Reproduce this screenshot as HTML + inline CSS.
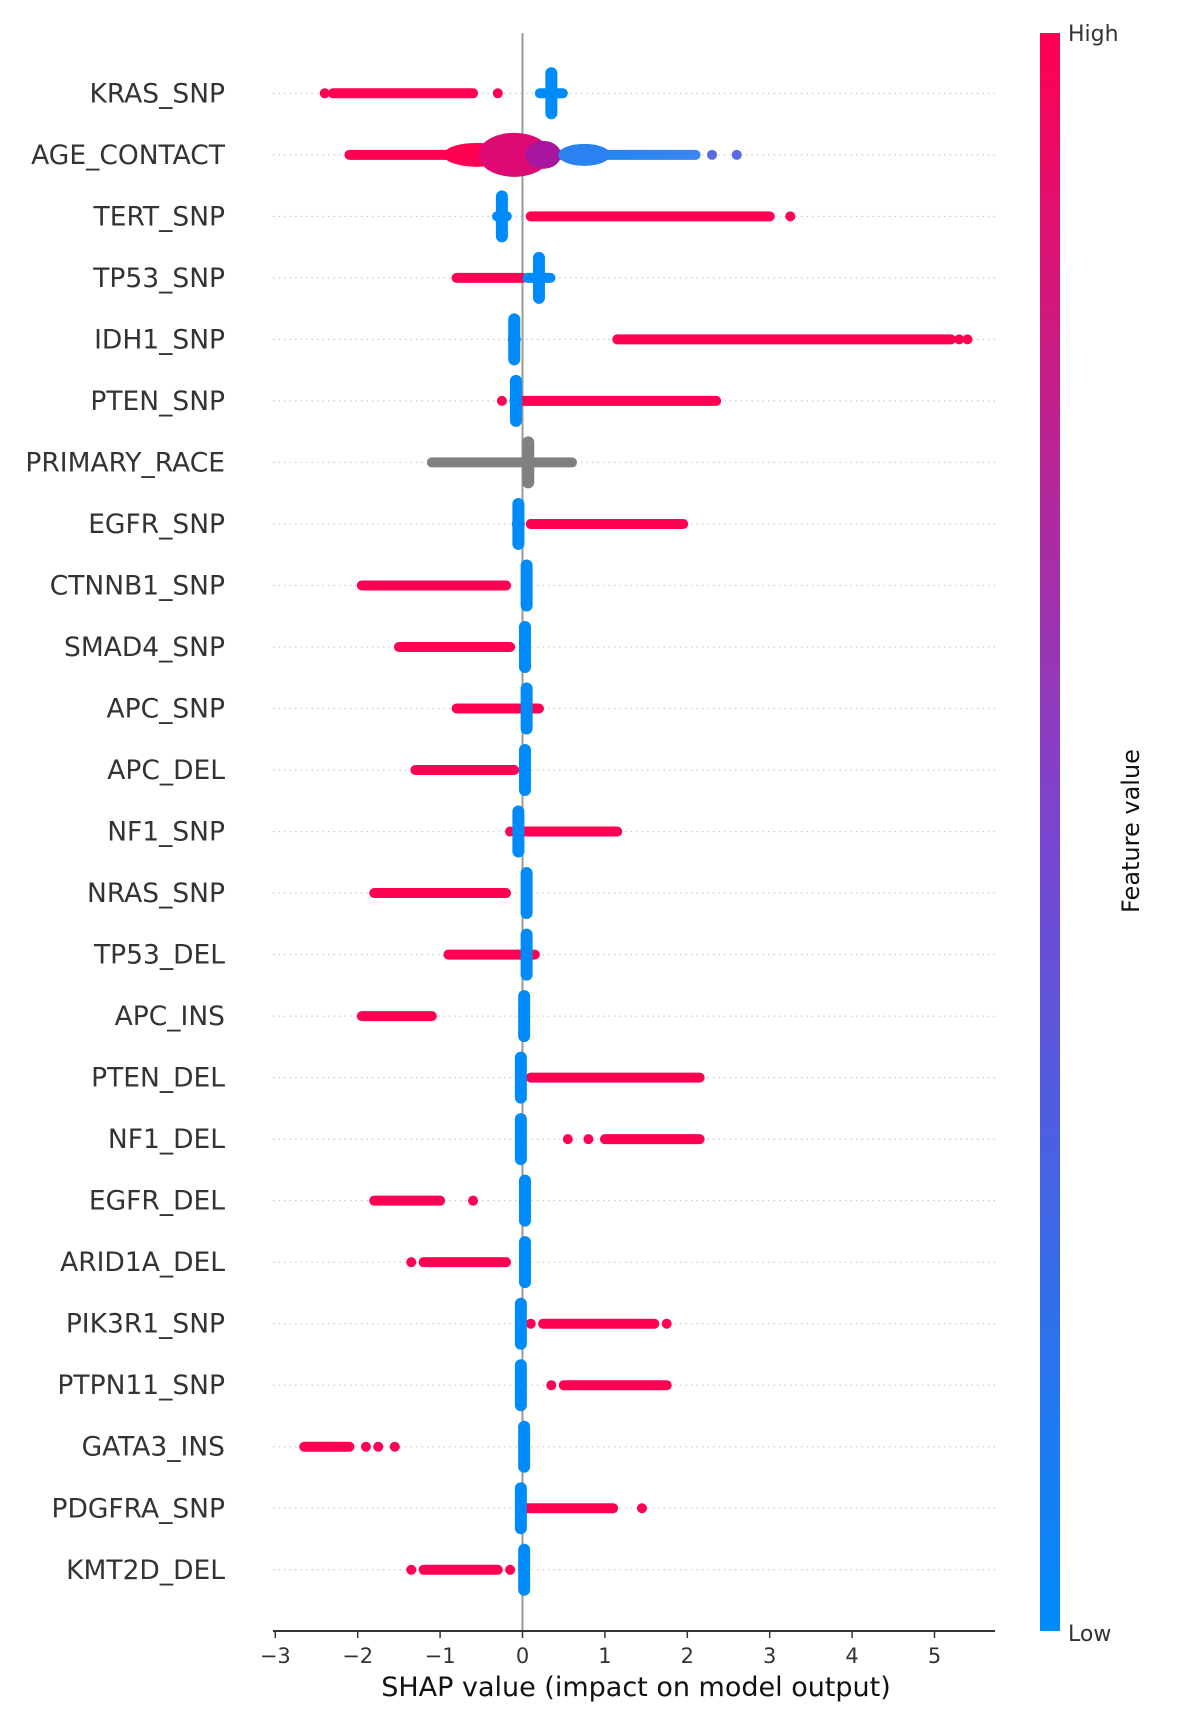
<!DOCTYPE html>
<html><head><meta charset="utf-8"><style>
html,body{margin:0;padding:0;background:#fff;}
svg{display:block;font-family:"DejaVu Sans","Liberation Sans",sans-serif;}
</style></head><body>
<svg id="chart" width="1200" height="1725" viewBox="0 0 1200 1725">
<defs><linearGradient id="cb" x1="0" y1="1" x2="0" y2="0">
<stop offset="0" stop-color="#008bfb"/><stop offset="0.5" stop-color="#7a45d0"/><stop offset="1" stop-color="#ff0052"/></linearGradient>
<linearGradient id="age" x1="0" y1="0" x2="1" y2="0">
<stop offset="0" stop-color="#ff0052"/><stop offset="0.4" stop-color="#ff0052"/><stop offset="0.55" stop-color="#b0109a"/><stop offset="0.65" stop-color="#1a86f0"/><stop offset="1" stop-color="#3a86f0"/></linearGradient></defs>
<g id="grid"></g><g id="marks"></g><g id="axis"></g>
<rect x="1040" y="33" width="20" height="1598" fill="url(#cb)"/>
<text x="1068" y="41" font-size="22" fill="#333">High</text>
<text x="1068" y="1641" font-size="22" fill="#333">Low</text>
<text transform="translate(1139,831) rotate(-90)" text-anchor="middle" font-size="24" fill="#111">Feature value</text>
<text x="636" y="1696" text-anchor="middle" font-size="27" fill="#111">SHAP value (impact on model output)</text>
</svg>
<script>
const features=["KRAS_SNP","AGE_CONTACT","TERT_SNP","TP53_SNP","IDH1_SNP","PTEN_SNP","PRIMARY_RACE","EGFR_SNP","CTNNB1_SNP","SMAD4_SNP","APC_SNP","APC_DEL","NF1_SNP","NRAS_SNP","TP53_DEL","APC_INS","PTEN_DEL","NF1_DEL","EGFR_DEL","ARID1A_DEL","PIK3R1_SNP","PTPN11_SNP","GATA3_INS","PDGFRA_SNP","KMT2D_DEL"];
const highMin=[-2.3,-2.1,0.1,-0.8,1.15,0.0,-1.1,0.1,-1.95,-1.5,-0.8,-1.3,0.0,-1.8,-0.9,-1.95,0.1,1.0,-1.8,-1.2,0.25,0.5,-2.65,0.0,-1.2];
const highMax=[-0.6,2.1,3.0,0.0,5.2,2.35,0.6,1.95,-0.2,-0.15,0.2,-0.1,1.15,-0.2,0.15,-1.1,2.15,2.15,-1.0,-0.2,1.6,1.75,-2.1,1.1,-0.3];
const outliers=[[-2.4,-0.3],[-2.05,2.3,2.6],[3.25],[],[5.3,5.4],[-0.25],[],[],[],[],[],[-0.4,-0.25],[-0.15],[],[],[],[],[0.55,0.8],[-0.6],[-1.35],[0.1,1.75],[0.35],[-1.9,-1.75,-1.55],[1.45],[-1.35,-0.15]];
const lowCenter=[0.35,0.1,-0.25,0.2,-0.1,-0.08,0.07,-0.05,0.05,0.03,0.05,0.03,-0.05,0.05,0.05,0.02,-0.02,-0.02,0.03,0.03,-0.02,-0.02,0.02,-0.02,0.02];
const lowSpread=[0.2,0.6,0.12,0.2,0.08,0.08,0.08,0.08,0.04,0.03,0.04,0.03,0.06,0.05,0.05,0.02,0.04,0.03,0.03,0.03,0.04,0.03,0.02,0.04,0.03];
const xTicks=[-3,-2,-1,0,1,2,3,4,5];
const NS="http://www.w3.org/2000/svg";
const x=v=>522.5+v*82.4;
const y=i=>93.3+i*61.52;
function mk(tag,attrs,parent){const e=document.createElementNS(NS,tag);for(const k in attrs)e.setAttribute(k,attrs[k]);document.getElementById(parent).appendChild(e);return e;}
const R=5;
features.forEach((f,i)=>{
  const cy=y(i);
  const g=mk('line',{x1:273,x2:995,y1:cy,y2:cy,stroke:'#ccc','stroke-width':1.2,'stroke-dasharray':'1.5,4'},'grid');
  
  
  const t=mk('text',{x:225,y:cy+9,'text-anchor':'end','font-size':26.5,fill:'#333'},'axis');
  t.textContent=f;
  
  
});
const vl=mk('line',{x1:x(0),x2:x(0),y1:33,y2:1631,stroke:'#999','stroke-width':2},'grid');


features.forEach((f,i)=>{
  const cy=y(i);
  const isAge=f==="AGE_CONTACT", isRace=f==="PRIMARY_RACE";
  const hc=isRace?'#808080':'#ff0052';
  const lc=isRace?'#808080':'#008bfb';
  const bar=mk('rect',{x:x(highMin[i])-R,y:cy-R,width:x(highMax[i])-x(highMin[i])+2*R,height:2*R,rx:R,fill:isAge?'url(#age)':hc},'marks');
  
  
  if(isAge){
    const b2=mk('ellipse',{cx:x(-0.55),cy:cy,rx:34,ry:12,fill:'#ff0052'},'marks');
    
    
    const b=mk('ellipse',{cx:x(-0.1),cy:cy,rx:36,ry:22,fill:'#dc0a72'},'marks');
    
    
    const b4=mk('ellipse',{cx:x(0.25),cy:cy,rx:18,ry:14,fill:'#a8159e'},'marks');
    
    
    const b3=mk('ellipse',{cx:x(0.75),cy:cy,rx:26,ry:11,fill:'#2a82f0'},'marks');
    
    
  }
  outliers[i].forEach(v=>{
    const c=mk('circle',{cx:x(v),cy:cy,r:R,fill:isAge?(v<0?'#ff0052':'#5a6ae0'):hc},'marks');
    
    
  });
  if(!isAge){
    const w=Math.max(2*R,x(lowCenter[i]+lowSpread[i])-x(lowCenter[i]-lowSpread[i]));
    const hl=mk('rect',{x:x(lowCenter[i])-w/2,y:cy-R,width:w,height:2*R,rx:R,fill:lc},'marks');
    
    
    const v=mk('rect',{x:x(lowCenter[i])-6,y:cy-26,width:12,height:52,rx:6,fill:lc},'marks');
    
    
  }
});
const ax=mk('line',{x1:273,x2:995,y1:1631,y2:1631,stroke:'#333','stroke-width':2},'axis');


xTicks.forEach(v=>{
  const tk=mk('line',{x1:x(v),x2:x(v),y1:1631,y2:1638,stroke:'#333','stroke-width':1.5},'axis');
  
  
  const tl=mk('text',{x:x(v),y:1663,'text-anchor':'middle','font-size':21,fill:'#333'},'axis');
  tl.textContent=v<0?'\u2212'+Math.abs(v):String(v);
  
  
});
</script>
</body></html>
